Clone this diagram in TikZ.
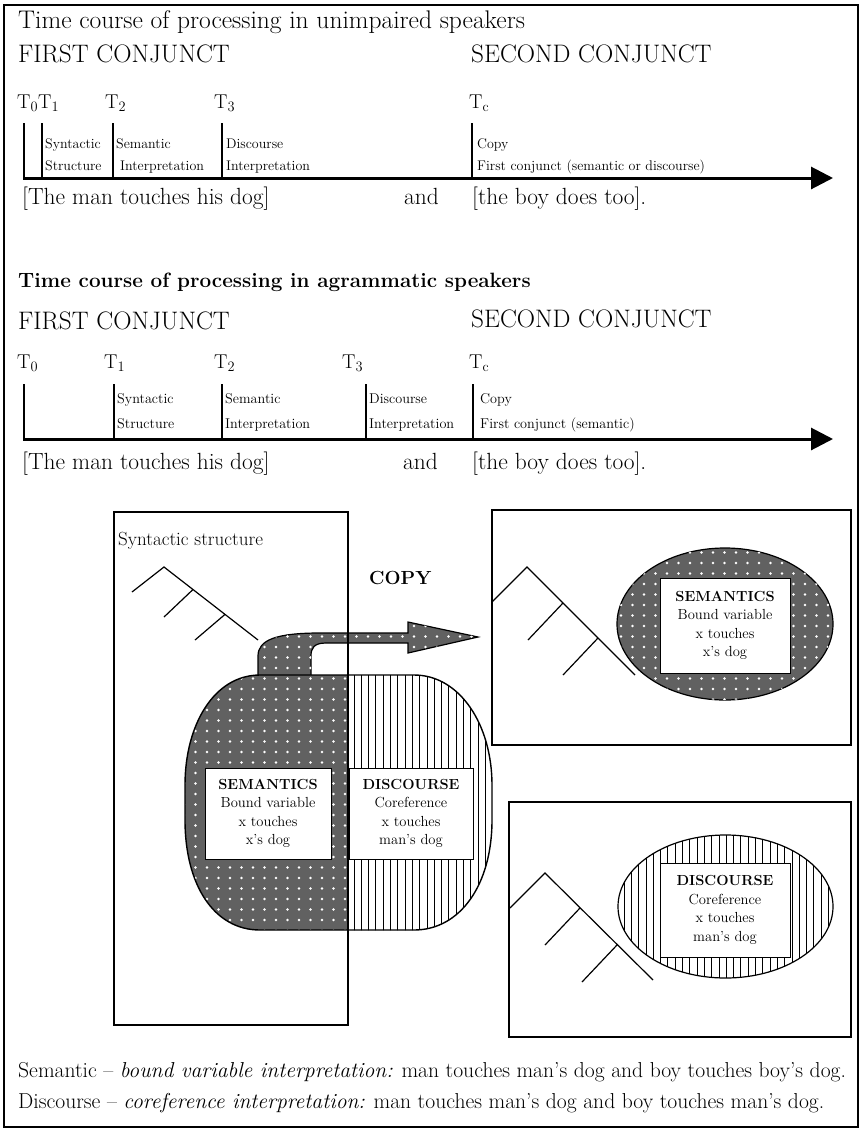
\documentclass[tikz,border=0pt]{standalone}
\usepackage{fontspec}
\usetikzlibrary{patterns,arrows.meta}

% white dots on a dark ground
\pgfdeclarepatternformonly{wdots}{\pgfqpoint{-2pt}{-2pt}}{\pgfqpoint{2pt}{2pt}}{\pgfqpoint{11.5pt}{10.5pt}}{%
  \pgfpathcircle{\pgfqpoint{0pt}{0pt}}{1.4pt}\pgfusepath{fill}}
% thin vertical stripes
\pgfdeclarepatternformonly{vstripes}{\pgfqpoint{0pt}{-1pt}}{\pgfqpoint{7.3pt}{1pt}}{\pgfqpoint{7.3pt}{1pt}}{%
  \pgfsetlinewidth{1pt}\pgfpathmoveto{\pgfqpoint{3.65pt}{-1pt}}\pgfpathlineto{\pgfqpoint{3.65pt}{1pt}}\pgfusepath{stroke}}

\begin{document}
\begin{tikzpicture}[x=1pt,y=-1pt,
  frame/.style={line width=1.5pt},
  boxline/.style={line width=1.4pt},
  axisline/.style={line width=3pt,-{Triangle[length=22pt,width=22pt]}},
  tickline/.style={line width=1.3pt},
  treeline/.style={line width=1.2pt},
  txt/.style={inner sep=0pt,anchor=base west},
  ftitle/.style={font=\fontsize{25.5}{29}\selectfont},
  fhead/.style={font=\fontsize{25.3}{29}\selectfont},
  ftime/.style={font=\fontsize{20}{24}\selectfont},
  fsmallA/.style={font=\fontsize{14}{16}\selectfont},
  fsmallB/.style={font=\fontsize{14.2}{16}\selectfont},
  fsent/.style={font=\fontsize{23.4}{27}\selectfont},
  fbox/.style={font=\fontsize{14.6}{18.5}\selectfont,align=center,inner sep=0pt},
  fnote/.style={font=\fontsize{21.6}{25}\selectfont},
  dotfill/.style={fill=black!62,postaction={pattern=wdots,pattern color=white}},
  stripefill/.style={fill=white,postaction={pattern=vstripes,pattern color=black}},
  whitebox/.style={fill=white,draw,line width=1pt}]

\useasboundingbox (0,0) rectangle (863,1130);
\draw[frame] (4,5) rectangle (858,1127);

% ---------------- unimpaired speakers ----------------
\node[txt,ftitle] (title1) at (18,28) {Time course of processing in unimpaired speakers};
\node[txt,fhead] (first1) at (18,62) {FIRST CONJUNCT};
\node[txt,fhead] (second1) at (471,62) {SECOND CONJUNCT};

\node[txt,ftime] (a0) at (17,108) {$\mathrm{T}_0$};
\node[txt,ftime] (a1) at (38,108) {$\mathrm{T}_1$};
\node[txt,ftime] (a2) at (105,108) {$\mathrm{T}_2$};
\node[txt,ftime] (a3) at (214,108) {$\mathrm{T}_3$};
\node[txt,ftime] (ac) at (469,108) {$\mathrm{T}_\mathrm{c}$};

\coordinate (ax1s) at (23,178);
\coordinate (ax1e) at (833,178);
\foreach \x/\n in {24/0,42/1,113/2,222/3,472/c}{
  \coordinate (ta\n) at (\x,123);
  \coordinate (tb\n) at (\x,178);
  \draw[tickline] (ta\n) -- (tb\n);
}
\draw[axisline] (ax1s) -- (ax1e);

\node[txt,fsmallA] (s1a) at (45,148) {Syntactic};
\node[txt,fsmallA] (s1b) at (45,170) {Structure};
\node[txt,fsmallA] (m1a) at (116,148) {Semantic};
\node[txt,fsmallA] (m1b) at (120,170) {Interpretation};
\node[txt,fsmallA] (d1a) at (226,148) {Discourse};
\node[txt,fsmallA] (d1b) at (226,170) {Interpretation};
\node[txt,fsmallA] (c1a) at (477,148) {Copy};
\node[txt,fsmallA] (c1b) at (477,170) {First conjunct (semantic or discourse)};

\node[txt,fsent] (l1) at (22,204) {[The man touches his dog]};
\node[txt,fsent] (and1) at (404,204) {and};
\node[txt,fsent] (r1) at (472,204) {[the boy does too].};

% ---------------- agrammatic speakers ----------------
\node[txt,font=\fontsize{20.7}{24}\selectfont\bfseries] (title2) at (18,287) {Time course of processing in agrammatic speakers};
\node[txt,fhead] (first2) at (18,329) {FIRST CONJUNCT};
\node[txt,fhead] (second2) at (471,327) {SECOND CONJUNCT};

\node[txt,ftime] (b0) at (17,368) {$\mathrm{T}_0$};
\node[txt,ftime] (b1) at (104,368) {$\mathrm{T}_1$};
\node[txt,ftime] (b2) at (214,368) {$\mathrm{T}_2$};
\node[txt,ftime] (b3) at (342,368) {$\mathrm{T}_3$};
\node[txt,ftime] (bc) at (469,368) {$\mathrm{T}_\mathrm{c}$};

\coordinate (ax2s) at (23,439);
\coordinate (ax2e) at (833,439);
\foreach \x/\n in {24/0,114/1,222/2,366/3,473/c}{
  \coordinate (ua\n) at (\x,384);
  \coordinate (ub\n) at (\x,439);
  \draw[tickline] (ua\n) -- (ub\n);
}
\draw[axisline] (ax2s) -- (ax2e);

\node[txt,fsmallB] (s2a) at (117,403) {Syntactic};
\node[txt,fsmallB] (s2b) at (117,428) {Structure};
\node[txt,fsmallB] (m2a) at (225,403) {Semantic};
\node[txt,fsmallB] (m2b) at (225,428) {Interpretation};
\node[txt,fsmallB] (d2a) at (369,403) {Discourse};
\node[txt,fsmallB] (d2b) at (369,428) {Interpretation};
\node[txt,fsmallB] (c2a) at (480,403) {Copy};
\node[txt,fsmallB] (c2b) at (480,428) {First conjunct (semantic)};

\node[txt,fsent] (l2) at (22,469) {[The man touches his dog]};
\node[txt,fsent] (and2) at (403,469) {and};
\node[txt,fsent] (r2) at (472,469) {[the boy does too].};

% ---------------- copy diagram ----------------
% copy arrow leaving the top of the blob
\path[dotfill,draw,line width=1.2pt]
  (258,676) -- (258,656) .. controls (258,640) and (276,633) .. (320,633)
  -- (408,633) -- (408,622) -- (478,637) -- (408,653) -- (408,643)
  -- (326,643) .. controls (314,643) and (311,648) .. (311,656) -- (311,676) -- cycle;

% the blob: semantic half and discourse half
\def\blobpath{(260,675) -- (414,675) .. controls (460,675) and (492,725) .. (492,785)
  -- (492,820) .. controls (492,885) and (460,930) .. (414,930)
  -- (260,930) .. controls (214,930) and (185,885) .. (185,820)
  -- (185,785) .. controls (185,725) and (214,675) .. (260,675) -- cycle}
\begin{scope}
  \clip (150,660) rectangle (348,940);
  \path[dotfill] \blobpath;
\end{scope}
\begin{scope}
  \clip (348,660) rectangle (520,940);
  \path[stripefill] \blobpath;
\end{scope}
\draw[line width=1.4pt] \blobpath;

\node[whitebox,minimum width=126pt,minimum height=91pt] (semL) at (268,813.5) {};
\node[fbox] (semLt) at (semL.center) {\textbf{SEMANTICS}\\Bound variable\\x touches\\x's dog};
\node[whitebox,minimum width=124pt,minimum height=91pt] (disL) at (411,813.5) {};
\node[fbox] (disLt) at (disL.center) {\textbf{DISCOURSE}\\Coreference\\x touches\\man's dog};

% syntactic structure box
\node[txt,font=\fontsize{19}{22}\selectfont] (synlab) at (118,545) {Syntactic structure};
\coordinate (p0) at (164,567);
\coordinate (p1) at (132,592);
\coordinate (p2) at (258,640);
\coordinate (p3) at (193,589.5);
\coordinate (p4) at (164,617);
\coordinate (p5) at (225,614.4);
\coordinate (p6) at (195,640);
\draw[treeline] (p1) -- (p0) -- (p2) (p3) -- (p4) (p5) -- (p6);
\draw[boxline] (114,512) rectangle (348,1025);

\node[font=\fontsize{19}{22}\selectfont\bfseries,inner sep=0pt,anchor=base west] (copy) at (369,584) {COPY};

% semantic copy
\draw[boxline] (492,510) rectangle (851,745);
\coordinate (q0) at (527,567);
\coordinate (q1) at (492,602);
\coordinate (q2) at (635,675);
\coordinate (q3) at (563,603);
\coordinate (q4) at (528,640);
\coordinate (q5) at (598,638);
\coordinate (q6) at (563,675);
\draw[treeline] (q1) -- (q0) -- (q2) (q3) -- (q4) (q5) -- (q6);
\path[dotfill,draw,line width=1.2pt] (725,624) ellipse[x radius=108,y radius=76];
\node[whitebox,minimum width=130pt,minimum height=95pt] (semR) at (725,625.5) {};
\node[fbox] (semRt) at (semR.center) {\textbf{SEMANTICS}\\Bound variable\\x touches\\x's dog};

% discourse copy
\draw[boxline] (509,802) rectangle (851,1037);
\coordinate (w0) at (545,873);
\coordinate (w1) at (510,908);
\coordinate (w2) at (653,980);
\coordinate (w3) at (580,908);
\coordinate (w4) at (545,945);
\coordinate (w5) at (617,945);
\coordinate (w6) at (582,982);
\draw[treeline] (w1) -- (w0) -- (w2) (w3) -- (w4) (w5) -- (w6);
\path[stripefill,draw,line width=1.2pt] (725.5,906.5) ellipse[x radius=107.5,y radius=71.5];
\node[whitebox,minimum width=130pt,minimum height=94pt] (disR) at (725,910) {};
\node[fbox] (disRt) at (disR.center) {\textbf{DISCOURSE}\\Coreference\\x touches\\man's dog};

% ---------------- key ----------------
\node[txt,fnote] (key1) at (18,1077) {Semantic -- \textit{bound variable interpretation:} man touches man's dog and boy touches boy's dog.};
\node[txt,fnote] (key2) at (18,1108) {Discourse -- \textit{coreference interpretation:} man touches man's dog and boy touches man's dog.};
\end{tikzpicture}
\end{document}
